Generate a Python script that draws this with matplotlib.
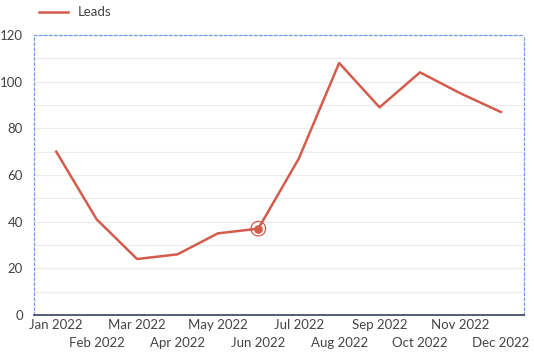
import matplotlib
matplotlib.use("Agg")
from matplotlib import pyplot as plt
from matplotlib.lines import Line2D

months = ["Jan 2022", "Feb 2022", "Mar 2022", "Apr 2022", "May 2022", "Jun 2022",
          "Jul 2022", "Aug 2022", "Sep 2022", "Oct 2022", "Nov 2022", "Dec 2022"]
leads = [70, 41, 24, 26, 35, 37, 67, 108, 89, 104, 95, 87]
highlight = 5  # Jun 2022

plt.rcParams['font.family'] = ['Lato', 'DejaVu Sans']
red = "#d35c4c"
txt = "#444444"

fig = plt.figure(figsize=(5.34, 3.63), dpi=100)
ax = fig.add_axes([0.0637, 0.1322, 0.9173, 0.7714])

x = list(range(len(months)))
ax.plot(x, leads, color=red, lw=1.8, zorder=3)
ax.scatter([highlight], [leads[highlight]], s=28, color=red, zorder=4)
ax.scatter([highlight], [leads[highlight]], s=110, facecolor="none",
           edgecolor=red, linewidth=0.9, zorder=4)

ax.set_xlim(-0.55, 11.57)
ax.set_ylim(0, 120)
ax.set_yticks(range(0, 121, 20))
ax.set_yticks(range(10, 120, 20), minor=True)
ax.grid(axis='y', which='both', color="#ebebeb", lw=0.8, zorder=0)
ax.tick_params(axis='y', which='both', length=0, labelsize=9.5, colors=txt, pad=8)

# alternate month labels on two rows: even months as major, odd as minor ticks
ax.set_xticks(x[::2], months[::2], fontsize=9.5, color=txt)
ax.set_xticks(x[1::2], months[1::2], minor=True, fontsize=9.5, color=txt)
ax.tick_params(axis='x', which='major', length=0, pad=3)
ax.tick_params(axis='x', which='minor', length=0, pad=16)

for side in ['top', 'left', 'right']:
    ax.spines[side].set_color("#6f9cf0")
    ax.spines[side].set_linestyle((0, (2, 2)))
    ax.spines[side].set_linewidth(0.9)
ax.spines['bottom'].set_color("#33415c")
ax.spines['bottom'].set_linewidth(1.2)
ax.axhline(0, color="#6f9cf0", lw=0.9, ls=(0, (2, 2)), zorder=5)

handle = Line2D([0], [0], color=red, lw=1.8)
fig.legend([handle], ["Leads"], loc='upper left', bbox_to_anchor=(0.05, 1.015),
           frameon=False, fontsize=9.5, handlelength=2.2, labelcolor=txt)

fig.savefig("out.png", dpi=100)
